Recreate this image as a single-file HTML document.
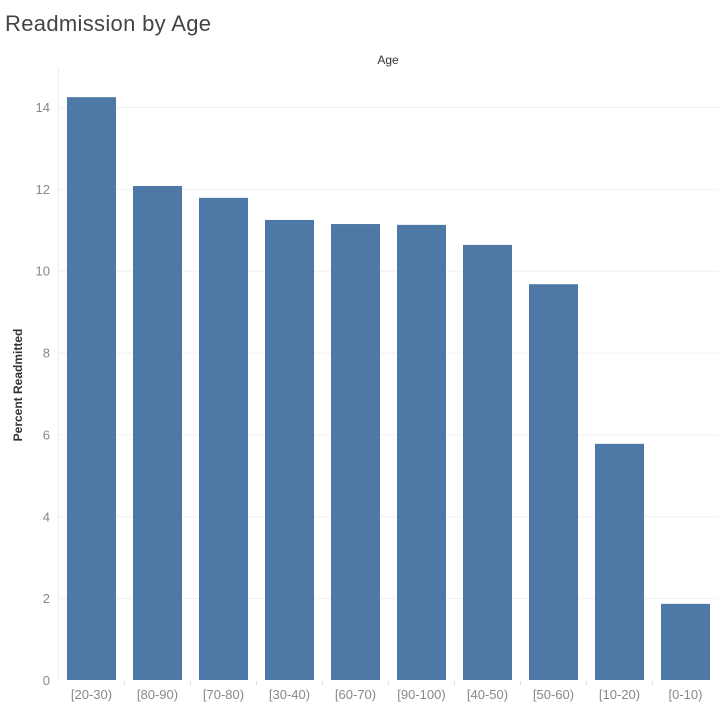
<!DOCTYPE html>
<html><head><meta charset="utf-8"><style>
body{margin:0;background:#fff;width:718px;height:705px;overflow:hidden;font-family:"Liberation Sans",sans-serif}
</style></head><body>
<svg width="718" height="705" xmlns="http://www.w3.org/2000/svg">
<text x="5" y="31" font-size="22" fill="#444" font-weight="300" textLength="206">Readmission by Age</text>
<text x="388" y="64" font-size="12" fill="#333" text-anchor="middle">Age</text>
<text transform="translate(22,385) rotate(-90)" font-size="12" fill="#333" font-weight="bold" text-anchor="middle">Percent Readmitted</text>
<g id="grid"></g><g id="bars"></g><g id="xl"></g>
<line x1="58.5" y1="68" x2="58.5" y2="680" stroke="#eee"/>
</svg>
<script>
const categories=["[20-30)","[80-90)","[70-80)","[30-40)","[60-70)","[90-100)","[40-50)","[50-60)","[10-20)","[0-10)"];
const values=[14.24,12.07,11.78,11.24,11.14,11.12,10.63,9.67,5.77,1.86];
const yTicks=[0,2,4,6,8,10,12,14];
const NS="http://www.w3.org/2000/svg";
const y=v=>680-v*40.93;
const x=i=>67+i*66;
function mk(t,a,p){const e=document.createElementNS(NS,t);for(const k in a)e.setAttribute(k,a[k]);p.appendChild(e);return e;}
const g=document.getElementById('grid'),b=document.getElementById('bars'),xl=document.getElementById('xl');
yTicks.forEach(t=>{
 if(t>0){const l=mk('line',{x1:59,x2:718,y1:y(t)+0.5,y2:y(t)+0.5,stroke:'#f0f0f0'},g);
 
 }
 const tx=mk('text',{x:50,y:y(t)+5,'font-size':13,fill:'#888','text-anchor':'end'},g);tx.textContent=t;
 
 
});
categories.forEach((c,i)=>{
 const r=mk('rect',{x:x(i),y:y(values[i]),width:49,height:680-y(values[i]),fill:'#4e79a7'},b);
 
 
 const t=mk('text',{x:x(i)+24.5,y:699,'font-size':13,fill:'#888','text-anchor':'middle'},xl);t.textContent=c;
 
 
 if(i>0){const tk=mk('line',{x1:x(i)-8.5,x2:x(i)-8.5,y1:681,y2:685,stroke:'#ddd'},xl);
 
 }
});
</script>
</body></html>
